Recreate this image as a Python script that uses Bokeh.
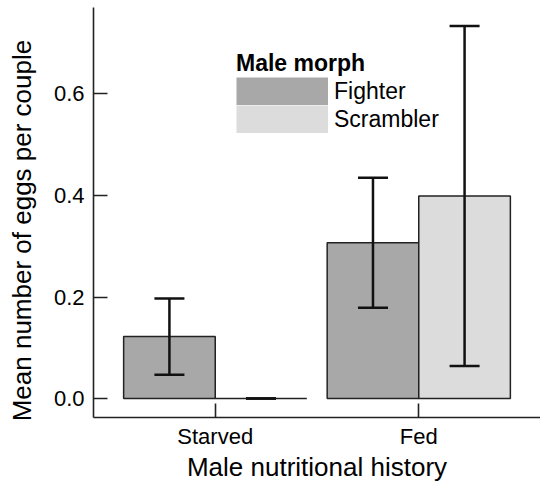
from bokeh.plotting import figure
from bokeh.models import (ColumnDataSource, FactorRange, Range1d, Whisker, TeeHead,
                          FixedTicker, PrintfTickFormatter, Legend, LegendItem)
from bokeh.transform import dodge
from bokeh.embed import file_html
from bokeh.resources import INLINE

# ---- data ----
nutrition = ["Starved", "Fed"]
fighter_mean = [0.122, 0.307]
fighter_lower = [0.047, 0.179]
fighter_upper = [0.197, 0.435]
scrambler_mean = [0.0, 0.399]
scrambler_lower = [0.0, 0.064]
scrambler_upper = [0.0, 0.734]
morphs = ["Fighter", "Scrambler"]
y_ticks = [0.0, 0.2, 0.4, 0.6]
x_title = "Male nutritional history"
y_title = "Mean number of eggs per couple"

FONT = "Liberation Sans"
FIGHTER_COLOR = "#a8a8a8"
SCRAMBLER_COLOR = "#dcdcdc"
NBSP = "\u00a0"

src_f = ColumnDataSource(dict(cat=nutrition, mean=fighter_mean, lower=fighter_lower, upper=fighter_upper))
src_s = ColumnDataSource(dict(cat=nutrition, mean=scrambler_mean, lower=scrambler_lower, upper=scrambler_upper))

p = figure(width=540, height=486, output_backend="svg", toolbar_location=None,
           x_range=FactorRange(factors=nutrition, range_padding=0.098),
           y_range=Range1d(-0.0374, 0.7704),
           min_border_left=93, min_border_right=0, min_border_top=7, min_border_bottom=69)

bw = 0.45
off = 0.225
p.vbar(x=dodge("cat", -off, range=p.x_range), top="mean", bottom=0, width=bw, source=src_f,
       fill_color=FIGHTER_COLOR, line_color="#222222", line_width=1.5)
p.vbar(x=dodge("cat", off, range=p.x_range), top="mean", bottom=0, width=bw, source=src_s,
       fill_color=SCRAMBLER_COLOR, line_color="#222222", line_width=1.5)

for src, o in ((src_f, -off), (src_s, off)):
    w = Whisker(source=src, base=dodge("cat", o, range=p.x_range), upper="upper", lower="lower",
                dimension="height", line_width=2.5, line_color="#111111", level="overlay",
                upper_head=TeeHead(size=30, line_width=2.5, line_color="#111111"),
                lower_head=TeeHead(size=30, line_width=2.5, line_color="#111111"))
    p.add_layout(w)

# legend proxies (hidden in the plot): thick butt-capped lines give flat full-size swatches
leg_f = p.line(x=dodge("cat", -off, range=p.x_range), y="mean", source=src_f, visible=False,
               line_color=FIGHTER_COLOR, line_width=28, line_cap="butt")
leg_s = p.line(x=dodge("cat", off, range=p.x_range), y="mean", source=src_s, visible=False,
               line_color=SCRAMBLER_COLOR, line_width=28, line_cap="butt")
legend = Legend(items=[LegendItem(label=morphs[0], renderers=[leg_f]),
                       LegendItem(label=morphs[1], renderers=[leg_s])],
                location=(143, 284), title="Male morph", click_policy="none",
                title_text_font=FONT, title_text_font_size="23px", title_text_font_style="bold",
                title_text_color="black", title_standoff=-10,
                label_text_font=FONT, label_text_font_size="23px", label_text_color="black",
                glyph_width=92, glyph_height=28, label_height=28, label_standoff=6,
                spacing=0, padding=0, margin=0,
                border_line_alpha=0, background_fill_alpha=0)
p.add_layout(legend)

p.xgrid.visible = False
p.ygrid.visible = False
p.outline_line_color = None

p.yaxis.ticker = FixedTicker(ticks=y_ticks)
p.yaxis.formatter = PrintfTickFormatter(format="%.1f")
for ax in (p.xaxis[0], p.yaxis[0]):
    ax.axis_line_color = "#222222"
    ax.axis_line_width = 1.6
    ax.major_tick_line_color = "#222222"
    ax.major_tick_line_width = 1.6
    ax.major_tick_out = 0
    ax.major_tick_in = 14
    ax.minor_tick_line_color = None
    ax.minor_tick_out = 0
    ax.minor_tick_in = 0
    ax.major_label_text_font = FONT
    ax.major_label_text_font_size = "22px"
    ax.major_label_text_color = "black"
    ax.axis_label_text_font = FONT
    ax.axis_label_text_font_size = "26px"
    ax.axis_label_text_font_style = "normal"
    ax.axis_label_text_color = "black"

p.xaxis.axis_label = x_title
# a few trailing no-break spaces nudge the vertical title down, as in the reference,
# while keeping its text box inside the canvas
p.yaxis.axis_label = y_title + NBSP * 5
p.xaxis.major_label_standoff = 6
p.xaxis.axis_label_standoff = 0
p.yaxis.major_label_standoff = 9
p.yaxis.axis_label_standoff = 14

open("out.html", "w").write(file_html(p, INLINE))
